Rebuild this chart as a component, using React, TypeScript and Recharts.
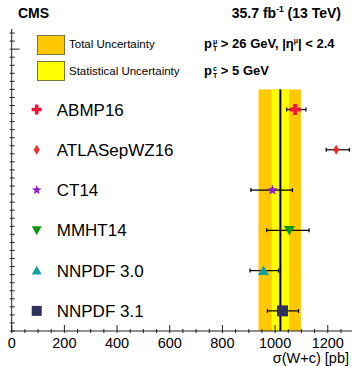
import React from 'react';
import { ScatterChart, Scatter, XAxis, YAxis, ErrorBar, ReferenceArea, ReferenceLine } from 'recharts';

// theory predictions, top row first
const models = ['ABMP16', 'ATLASepWZ16', 'CT14', 'MMHT14', 'NNPDF 3.0', 'NNPDF 3.1'];
const modelRows = [6, 5, 4, 3, 2, 1];
const predictions = [1076, 1232, 990, 1054, 956, 1028];
const predErrLow = [32, 38, 82, 86, 51, 57];
const predErrHigh = [41, 50, 76, 75, 57, 61];
const markerColors = ['#f0173c', '#ee2a2a', '#8e1ccf', '#0e960e', '#12a0a0', '#30305f'];
const markerKinds = ['cross', 'diamond', 'star', 'tridown', 'triup', 'square'];

// measurement
const measured = 1020;
const statErr = [33, 33];
const totalErr = [83, 78];
const bandRows = [0.5, 6.5];

const xTickLabels = [0, 200, 400, 600, 800, 1000, 1200];
const xTicks = Array.from({ length: 26 }, (_, i) => i * 50);
const yTicks = Array.from({ length: 38 }, (_, i) => Math.round((0.5 + i * 0.2) * 10) / 10);
const legendX = 95;

const FONT = '"Liberation Sans", Arial, Helvetica, sans-serif';
const AXIS = '#222';

function Marker({ kind, cx, cy, color, s }: any) {
  const h = s / 2;
  if (kind === 'cross') {
    const t = s * 0.18;
    const d = `M${cx - t},${cy - h}H${cx + t}V${cy - t}H${cx + h}V${cy + t}H${cx + t}V${cy + h}H${cx - t}V${cy + t}H${cx - h}V${cy - t}H${cx - t}Z`;
    return <path d={d} fill={color} />;
  }
  if (kind === 'diamond') {
    return <polygon points={`${cx},${cy - h} ${cx + h * 0.6},${cy} ${cx},${cy + h} ${cx - h * 0.6},${cy}`} fill={color} />;
  }
  if (kind === 'star') {
    const pts: string[] = [];
    for (let i = 0; i < 10; i++) {
      const r = i % 2 === 0 ? h : h * 0.42;
      const a = -Math.PI / 2 + (i * Math.PI) / 5;
      pts.push(`${cx + r * Math.cos(a)},${cy + r * Math.sin(a)}`);
    }
    return <polygon points={pts.join(' ')} fill={color} />;
  }
  if (kind === 'tridown') {
    return <polygon points={`${cx - h},${cy - h * 0.8} ${cx + h},${cy - h * 0.8} ${cx},${cy + h * 0.95}`} fill={color} />;
  }
  if (kind === 'triup') {
    return <polygon points={`${cx - h},${cy + h * 0.8} ${cx + h},${cy + h * 0.8} ${cx},${cy - h * 0.95}`} fill={color} />;
  }
  return <rect x={cx - h} y={cy - h} width={s} height={s} fill={color} />;
}

const XTick = ({ x, y, payload }: any) => {
  const major = xTickLabels.includes(payload.value);
  return (
    <g>
      <line x1={x} x2={x} y1={y} y2={y - (major ? 8 : 4)} stroke={AXIS} strokeWidth={1} />
      {major && (
        <text x={x} y={y + 15} textAnchor="middle" fontSize={14.5} fontFamily={FONT} fill="#000">
          {payload.value}
        </text>
      )}
    </g>
  );
};

const YTick = ({ x, y, payload }: any) => {
  const major = payload.value === 7.5;
  return <line x1={x} x2={x + (major ? 10 : 5)} y1={y} y2={y} stroke={AXIS} strokeWidth={1} />;
};

const Pt = ({ sup }: { sup: string }) => (
  <span>
    p
    <span
      style={{
        display: 'inline-flex',
        flexDirection: 'column',
        fontSize: 7,
        lineHeight: '7px',
        verticalAlign: 'middle',
        marginLeft: 1,
      }}
    >
      <span>{sup}</span>
      <span>T</span>
    </span>
  </span>
);

export default function App() {
  const legendData = models.map((name, i) => ({ x: legendX, y: modelRows[i], name, i }));

  return (
    <div style={{ position: 'absolute', left: 0, top: 0, width: 352, height: 366, background: '#fff', fontFamily: FONT }}>
      <ScatterChart width={352} height={366} margin={{ top: 29, right: 0, bottom: 0, left: 0 }}>
        <XAxis
          type="number"
          dataKey="x"
          domain={[0, 1292]}
          allowDataOverflow
          ticks={xTicks}
          interval={0}
          tickSize={0}
          tickLine={false}
          tick={<XTick />}
          axisLine={{ stroke: AXIS }}
          height={35}
          label={{ value: 'σ(W+c) [pb]', position: 'insideBottomRight', offset: 3, fontSize: 14.5, fill: '#000', fontFamily: FONT }}
        />
        <YAxis
          type="number"
          dataKey="y"
          domain={[0.5, 8]}
          allowDataOverflow
          ticks={yTicks}
          interval={0}
          tickSize={0}
          tickLine={false}
          tick={<YTick />}
          axisLine={{ stroke: AXIS }}
          width={11.7}
        />
        <ReferenceArea x1={measured - totalErr[0]} x2={measured + totalErr[1]} y1={bandRows[0]} y2={bandRows[1]} fill="#ffc800" fillOpacity={1} stroke="none" />
        <ReferenceArea x1={measured - statErr[0]} x2={measured + statErr[1]} y1={bandRows[0]} y2={bandRows[1]} fill="#ffff00" fillOpacity={1} stroke="none" />
        <ReferenceLine
          segment={[
            { x: measured, y: bandRows[0] },
            { x: measured, y: bandRows[1] },
          ]}
          stroke="#000"
          strokeWidth={2}
        />
        {models.map((name, i) => (
          <Scatter
            key={name}
            name={name}
            data={[{ x: predictions[i], y: modelRows[i], err: [predErrLow[i], predErrHigh[i]] }]}
            isAnimationActive={false}
            shape={(p: any) => <Marker kind={markerKinds[i]} cx={p.cx} cy={p.cy} color={markerColors[i]} s={i === 1 ? 10 : 11} />}
          >
            <ErrorBar dataKey="err" direction="x" width={2} stroke="#000" strokeWidth={1.2} />
          </Scatter>
        ))}
        <Scatter
          data={legendData}
          isAnimationActive={false}
          shape={(p: any) => {
            const idx = p.payload?.i ?? p.i;
            return (
              <g>
                <Marker kind={markerKinds[idx]} cx={p.cx} cy={p.cy} color={markerColors[idx]} s={10} />
                <text x={p.cx + 20} y={p.cy} dy="0.36em" fontSize={17} fontFamily={FONT} fill="#000">
                  {models[idx]}
                </text>
              </g>
            );
          }}
        />
      </ScatterChart>

      <div style={{ position: 'absolute', left: 18, top: 6, fontSize: 14, fontWeight: 'bold', lineHeight: '14px' }}>CMS</div>
      <div style={{ position: 'absolute', right: 11, top: 6, fontSize: 14, fontWeight: 'bold', lineHeight: '14px', whiteSpace: 'nowrap' }}>
        35.7 fb<sup style={{ fontSize: 8.5, lineHeight: 0 }}>-1</sup> (13 TeV)
      </div>

      <div style={{ position: 'absolute', left: 37, top: 35, width: 26, height: 18, background: '#ffc800', border: '1px solid #7a7640' }} />
      <div style={{ position: 'absolute', left: 37, top: 61, width: 26, height: 18, background: '#ffff00', border: '1px solid #7a7640' }} />
      <div style={{ position: 'absolute', left: 69, top: 38, fontSize: 11.5, lineHeight: '12px', whiteSpace: 'nowrap' }}>Total Uncertainty</div>
      <div style={{ position: 'absolute', left: 69, top: 65, fontSize: 11.5, lineHeight: '12px', whiteSpace: 'nowrap' }}>Statistical Uncertainty</div>

      <div style={{ position: 'absolute', left: 204, top: 37, fontSize: 13, fontWeight: 'bold', lineHeight: '13px', whiteSpace: 'nowrap' }}>
        <Pt sup="μ" /> &gt; 26 GeV, |η<sup style={{ fontSize: 7, lineHeight: 0 }}>μ</sup>| &lt; 2.4
      </div>
      <div style={{ position: 'absolute', left: 204, top: 64, fontSize: 13, fontWeight: 'bold', lineHeight: '13px', whiteSpace: 'nowrap' }}>
        <Pt sup="c" /> &gt; 5 GeV
      </div>
    </div>
  );
}
